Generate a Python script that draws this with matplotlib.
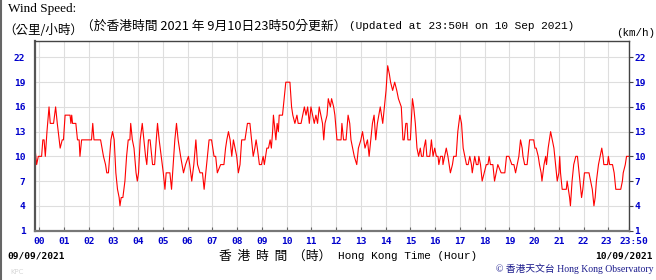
import matplotlib.pyplot as plt
from matplotlib.lines import Line2D
from matplotlib.transforms import ScaledTranslation

# minutes after 00:00 (Hong Kong Time) and wind speed in km/h
minutes = [
    -10, -6, -2, 6, 9, 12, 15, 19, 24, 27, 35, 40, 44, 51, 56, 59,
    63, 75, 77, 79, 81, 89, 93, 97, 99, 103, 127, 130, 133, 149, 156, 161,
    164, 168, 174, 178, 182, 186, 190, 194, 196, 199, 203, 208, 212, 216, 220, 222,
    226, 230, 235, 238, 241, 245, 250, 254, 258, 261, 265, 269, 273, 275, 280, 284,
    287, 291, 296, 301, 305, 308, 317, 321, 325, 329, 333, 337, 343, 350, 355, 362,
    365, 370, 375, 380, 384, 390, 396, 400, 404, 412, 418, 424, 428, 432, 440, 448,
    452, 455, 459, 463, 467, 471, 475, 479, 483, 487, 491, 499, 505, 511, 515, 519,
    523, 526, 529, 534, 539, 543, 546, 552, 556, 560, 563, 566, 568, 572, 574, 577,
    580, 582, 590, 594, 598, 608, 612, 615, 620, 625, 628, 635, 639, 643, 647, 651,
    655, 659, 663, 667, 671, 675, 679, 683, 687, 690, 693, 698, 701, 706, 709, 714,
    717, 722, 732, 734, 738, 744, 749, 753, 756, 760, 764, 770, 774, 780, 784, 787,
    790, 796, 800, 804, 808, 812, 816, 820, 827, 830, 833, 837, 841, 845, 849, 852,
    857, 862, 867, 871, 878, 882, 885, 889, 892, 894, 900, 905, 908, 912, 916, 920,
    924, 927, 931, 933, 937, 940, 947, 951, 955, 959, 963, 967, 969, 973, 978, 979,
    983, 987, 991, 994, 997, 1002, 1005, 1011, 1015, 1020, 1024, 1028, 1032, 1036, 1040, 1044,
    1048, 1050, 1053, 1056, 1060, 1064, 1066, 1070, 1072, 1074, 1079, 1084, 1088, 1091, 1094, 1100,
    1104, 1108, 1112, 1120, 1129, 1133, 1139, 1146, 1151, 1155, 1159, 1163, 1167, 1171, 1173, 1177,
    1183, 1187, 1189, 1199, 1202, 1205, 1210, 1213, 1217, 1219, 1224, 1228, 1230, 1234, 1237, 1240,
    1244, 1248, 1252, 1256, 1260, 1262, 1264, 1268, 1278, 1280, 1283, 1286, 1288, 1292, 1296, 1301,
    1305, 1309, 1313, 1315, 1318, 1322, 1333, 1337, 1341, 1345, 1348, 1351, 1356, 1360, 1364, 1367,
    1369, 1378, 1380, 1383, 1390, 1394, 1398, 1410, 1414, 1416, 1421, 1424, 1430,
]
speeds = [
    11, 9, 10, 10, 12, 12, 10, 13, 16, 14, 14, 16, 14, 11, 12, 12,
    15, 15, 14, 15, 14, 14, 12, 12, 10, 12, 12, 14, 12, 12, 10, 9,
    8, 8, 12, 13, 12, 8, 6, 5, 4, 5, 5, 7, 10, 12, 12, 14,
    12, 11, 8, 7, 8, 12, 14, 12, 10, 9, 12, 12, 10, 9, 9, 12,
    14, 12, 10, 8, 6, 8, 8, 6, 9, 12, 14, 12, 10, 8, 9, 10,
    9, 7, 9, 12, 9, 8, 8, 6, 8, 12, 12, 10, 10, 8, 9, 9,
    11, 12, 13, 12, 10, 12, 11, 10, 8, 9, 12, 12, 14, 14, 12, 10,
    11, 12, 11, 9, 9, 10, 9, 11, 11, 12, 11, 13, 15, 13, 12, 14,
    13, 15, 15, 17, 19, 19, 16, 15, 14, 15, 14, 14, 15, 16, 15, 16,
    14, 16, 15, 14, 15, 14, 16, 15, 14, 12, 14, 15, 17, 16, 17, 16,
    15, 12, 12, 14, 12, 12, 15, 14, 12, 11, 10, 9, 11, 12, 13, 12,
    11, 12, 10, 12, 14, 15, 12, 14, 16, 15, 14, 16, 18, 21, 20, 19,
    18, 19, 18, 17, 16, 12, 12, 14, 14, 12, 12, 17, 16, 14, 11, 10,
    11, 10, 10, 11, 12, 10, 10, 12, 10, 11, 10, 10, 9, 10, 10, 9,
    10, 11, 10, 9, 8, 9, 10, 10, 13, 15, 14, 11, 10, 9, 9, 10,
    9, 8, 9, 10, 9, 9, 10, 9, 8, 7, 8, 9, 9, 10, 9, 9,
    7, 8, 9, 8, 8, 10, 10, 9, 9, 8, 9, 10, 12, 11, 10, 9,
    9, 11, 12, 12, 11, 11, 10, 9, 8, 7, 9, 10, 9, 11, 12, 13,
    12, 11, 9, 7, 8, 10, 8, 6, 6, 7, 6, 5, 4, 7, 9, 10,
    10, 8, 6, 5, 6, 8, 8, 7, 6, 4, 5, 7, 9, 10, 11, 10,
    9, 9, 10, 9, 9, 8, 6, 6, 7, 8, 9, 10, 10,
]

hour_ticks = list(range(0, 1440, 60)) + [1430]
hour_labels = ["%02d" % h for h in range(24)] + ["23:50"]
speed_ticks = [1, 4, 7, 10, 13, 16, 19, 22]

BLUE = "#0000cc"
MONO = "DejaVu Sans Mono"
CJK = ["Noto Sans CJK TC", "DejaVu Sans"]

fig = plt.figure(figsize=(6.56, 2.80), dpi=100)
ax = fig.add_axes([35 / 656, 1 - 230.5 / 280, 594 / 656, 189.5 / 280])

ax.plot(minutes, speeds, color="#ff0000", lw=0.8)

ax.set_xlim(-10, 1430)
ax.set_ylim(1, 24)
ax.set_xticks(hour_ticks)
ax.set_xticklabels(hour_labels)
ax.set_yticks(speed_ticks)
ax.grid(True, color="#dedede", lw=0.8)
ax.set_axisbelow(True)

ax.tick_params(axis="x", direction="in", length=3, color="#666666", pad=5,
               labelsize=6.8, labelcolor=BLUE)
ax.tick_params(axis="y", left=False, right=True, labelright=True,
               direction="out", length=3, color="#444444", pad=1,
               labelsize=6.8, labelcolor=BLUE)
for lab in ax.get_xticklabels() + ax.get_yticklabels():
    lab.set_fontfamily(MONO)
    lab.set_fontweight("bold")


def nudge(label, dx_px):
    label.set_transform(label.get_transform()
                        + ScaledTranslation(dx_px / 100, 0, fig.dpi_scale_trans))


# left speed labels sit a little away from the spine; keep "23" and "23:50" apart
for t in ax.yaxis.get_major_ticks():
    nudge(t.label1, -4)
xt = ax.xaxis.get_major_ticks()
nudge(xt[23].label1, -2)
nudge(xt[24].label1, 5)

ax.spines["left"].set_color("#555555")
ax.spines["left"].set_linewidth(1.6)
ax.spines["bottom"].set_color("#777777")
ax.spines["bottom"].set_linewidth(1.6)
ax.spines["top"].set_color("#444444")
ax.spines["top"].set_linewidth(1.0)
ax.spines["right"].set_color("#444444")
ax.spines["right"].set_linewidth(1.0)

# header texts
fig.text(8 / 656, 1 - 9 / 280, "Wind Speed:", family="Liberation Serif",
         fontsize=9.5, va="center", ha="left")
fig.text(3 / 656, 1 - 31 / 280, "（公里/小時）", family=CJK,
         fontsize=9, va="center", ha="left")
fig.text(81 / 656, 1 - 26 / 280, "（於香港時間 2021 年 9月10日23時50分更新）",
         family=CJK, fontsize=9.2, va="center", ha="left")
fig.text(349 / 656, 1 - 26 / 280, "(Updated at 23:50H on 10 Sep 2021)",
         family="Liberation Mono", fontsize=8, va="center", ha="left")
fig.text(655 / 656, 1 - 33 / 280, "(km/h)", family="Liberation Mono",
         fontsize=7.8, va="center", ha="right")

# footer texts
fig.text(7 / 656, 1 - 256 / 280, "09/09/2021", family=MONO, fontweight="bold",
         fontsize=6.8, va="center", ha="left")
fig.text(653 / 656, 1 - 256 / 280, "10/09/2021", family=MONO, fontweight="bold",
         fontsize=6.8, va="center", ha="right")
fig.text(219 / 656, 1 - 256 / 280, "香  港  時  間  （時）", family=CJK,
         fontsize=9.2, va="center", ha="left")
fig.text(338 / 656, 1 - 256 / 280, "Hong Kong Time (Hour)",
         family="Liberation Mono", fontsize=8, va="center", ha="left")
fig.text(10 / 656, 1 - 272 / 280, "KPC", family="DejaVu Sans", fontsize=5,
         color="#d8d8d8", va="center", ha="left")
fig.text(654 / 656, 1 - 269 / 280, "© 香港天文台 Hong Kong Observatory",
         family=["Liberation Serif", "Noto Sans CJK TC"], fontsize=7,
         color="#1a1a8c", va="center", ha="right")

fig.add_artist(Line2D([1 / 656, 1 / 656], [0, 1], color="#666666", lw=1.5))

fig.savefig("out.png", dpi=100)
